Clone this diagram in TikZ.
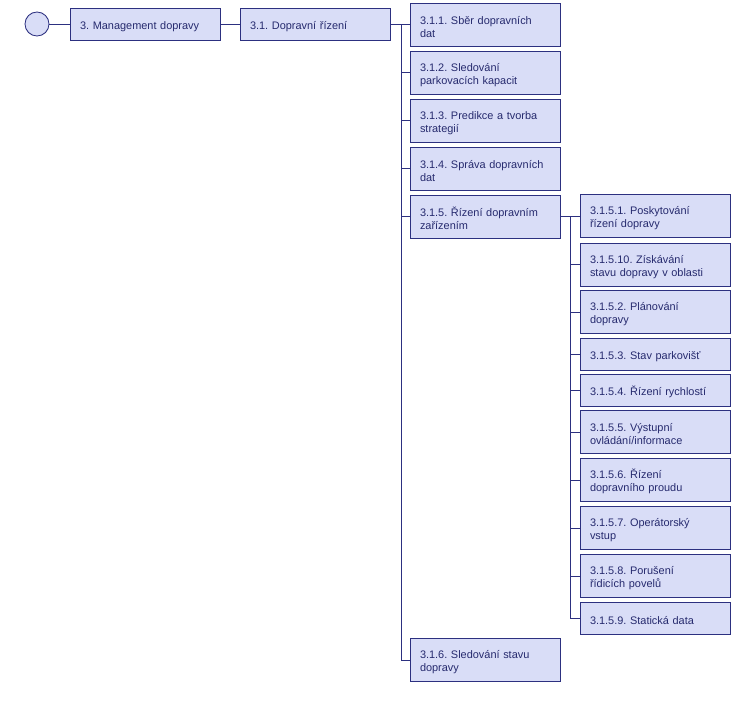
\documentclass[tikz,border=0pt]{standalone}
\usepackage{fontspec}
\setmainfont{Liberation Sans}
\usepackage{xcolor}
\definecolor{boxfill}{HTML}{D9DDF7}
\definecolor{boxline}{HTML}{2C3080}
\definecolor{boxtext}{HTML}{262A6E}
\frenchspacing

\tikzset{
  wbox/.style={draw=boxline, fill=boxfill, line width=0.65pt, rectangle,
    text width=97.5pt, inner xsep=7.5pt, inner ysep=2pt, align=left,
    minimum height=32.25pt, text=boxtext, font=\fontsize{8.2}{9.75}\selectfont,
    execute at begin node={\rule{0pt}{9.5pt}}},
  wshort/.style={wbox, minimum height=24pt},
  wire/.style={boxline, line width=0.65pt}
}

\begin{document}
\begin{tikzpicture}[x=0.75pt, y=-0.75pt]
\useasboundingbox (0,0) rectangle (740,704);

% Root
\node[circle, draw=boxline, fill=boxfill, line width=0.65pt, minimum size=18pt, inner sep=0pt] (root) at (37,24) {};
\node[wshort] (n3) at (145,24) {3. Management dopravy};
\node[wshort] (n31) at (315,24) {3.1. Dopravní řízení};

% Level 2
\node[wbox] (n311) at (485,24.5) {3.1.1. Sběr dopravních\\dat};
\node[wbox] (n312) at (485,72.5) {3.1.2. Sledování\\parkovacích kapacit};
\node[wbox] (n313) at (485,120.5) {3.1.3. Predikce a tvorba\\strategií};
\node[wbox] (n314) at (485,168.5) {3.1.4. Správa dopravních\\dat};
\node[wbox] (n315) at (485,216.5) {3.1.5. Řízení dopravním\\zařízením};
\node[wbox] (n316) at (485,660) {3.1.6. Sledování stavu\\dopravy};

% Level 3
\node[wbox] (n3151) at (655,216) {3.1.5.1. Poskytování\\řízení dopravy};
\node[wbox] (n31510) at (655,264.5) {3.1.5.10. Získávání\\stavu dopravy v oblasti};
\node[wbox] (n3152) at (655,312) {3.1.5.2. Plánování\\dopravy};
\node[wshort] (n3153) at (655,354) {3.1.5.3. Stav parkovišť};
\node[wshort] (n3154) at (655,390) {3.1.5.4. Řízení rychlostí};
\node[wbox] (n3155) at (655,432) {3.1.5.5. Výstupní\\ovládání/informace};
\node[wbox] (n3156) at (655,480) {3.1.5.6. Řízení\\dopravního proudu};
\node[wbox] (n3157) at (655,528) {3.1.5.7. Operátorský\\vstup};
\node[wbox] (n3158) at (655,576) {3.1.5.8. Porušení\\řídicích povelů};
\node[wshort] (n3159) at (655,618) {3.1.5.9. Statická data};

% Connectors
\draw[wire] (root) -- (n3);
\draw[wire] (n3) -- (n31);

\coordinate (bus1) at (401,24);
\draw[wire] (n31.east) -- (bus1);
\foreach \c in {n311,n312,n313,n314,n315,n316}
  \draw[wire] (bus1) |- (\c.west);

\coordinate (bus2) at (570,216.5);
\draw[wire] (n315.east) -- (bus2);
\foreach \c in {n3151,n31510,n3152,n3153,n3154,n3155,n3156,n3157,n3158,n3159}
  \draw[wire] (bus2) |- (\c.west);
\end{tikzpicture}
\end{document}
